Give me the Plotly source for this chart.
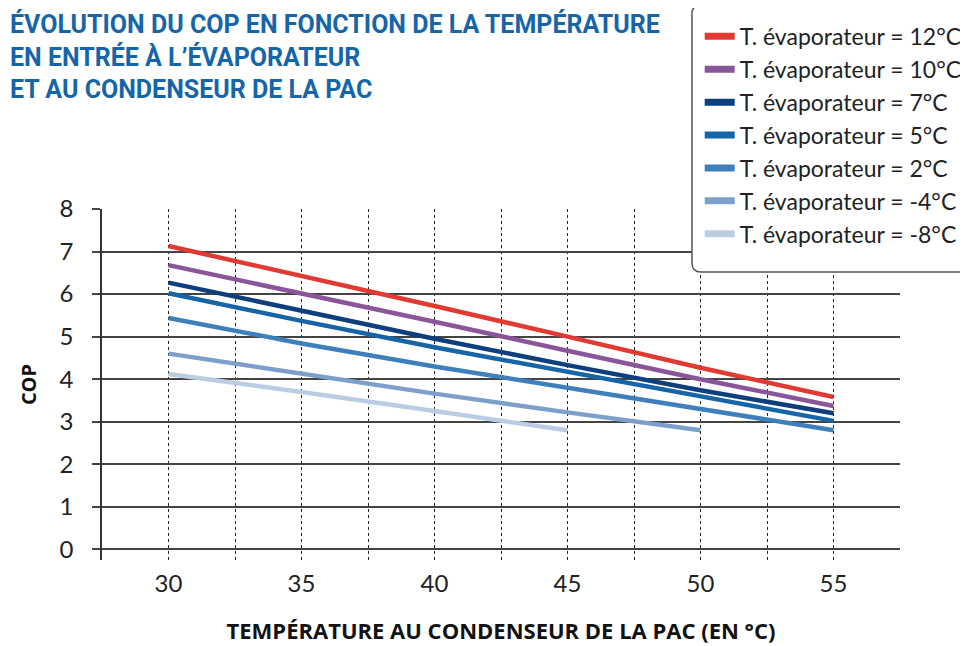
import plotly.graph_objects as go

# condenser temperature (°C)
temp_cond = [30, 35, 40, 45, 50, 55]

# COP curves, one per evaporator temperature
cop_12 = [7.13, 6.43, 5.72, 5.00, 4.27, 3.58]
cop_10 = [6.68, 6.02, 5.35, 4.67, 4.00, 3.37]
cop_7 = [6.27, 5.60, 4.95, 4.33, 3.74, 3.20]
cop_5 = [6.02, 5.37, 4.75, 4.18, 3.60, 3.02]
cop_2 = [5.44, 4.84, 4.30, 3.80, 3.28, 2.80]
cop_m4 = [4.60, 4.12, 3.66, 3.22, 2.80]
cop_m8 = [4.12, 3.70, 3.25, 2.80]

labels = ["T. évaporateur = 12°C", "T. évaporateur = 10°C", "T. évaporateur = 7°C",
          "T. évaporateur = 5°C", "T. évaporateur = 2°C", "T. évaporateur = -4°C",
          "T. évaporateur = -8°C"]
series = [cop_12, cop_10, cop_7, cop_5, cop_2, cop_m4, cop_m8]
colors = ["#e03a32", "#8a559b", "#0d3f7f", "#1565a8", "#3f7fbb", "#7c9fcb", "#bccde3"]

fig = go.Figure()
for name, vals, col in zip(labels, series, colors):
    fig.add_trace(go.Scatter(
        x=temp_cond[:len(vals)], y=vals, mode="lines", name=name,
        line=dict(color=col, width=4.5), legendgroup=name, showlegend=False,
    ))
    # thicker swatch for the legend only
    fig.add_trace(go.Scatter(
        x=[None], y=[None], mode="lines", name=name,
        line=dict(color=col, width=7), legendgroup=name, showlegend=True,
    ))

title = ("<b>ÉVOLUTION DU COP EN FONCTION DE LA TEMPÉRATURE<br>"
         "EN ENTRÉE À L’ÉVAPORATEUR<br>"
         "ET AU CONDENSEUR DE LA PAC</b>")

# page has an 8px body margin, so the layout is shifted by -8px
fig.add_annotation(
    text=title, xref="paper", yref="paper", x=-0.1165, y=1.0, yshift=201,
    xanchor="left", yanchor="top", align="left", showarrow=False, borderpad=0,
    font=dict(family="Roboto", size=25, color="#1565a8"),
)

# rounded legend frame (pixel sized, anchored at its bottom-left corner)
w, h, r = 300, 267, 9
fig.add_shape(
    type="path", layer="above",
    xref="paper", yref="paper", xsizemode="pixel", ysizemode="pixel",
    xanchor=0.7393, yanchor=0.8205,
    path=f"M {r},0 L {w},0 L {w},{h} L {r},{h} Q 0,{h} 0,{h - r} L 0,{r} Q 0,0 {r},0 Z",
    fillcolor="white", line=dict(color="#555", width=1.5),
)

fig.update_layout(
    width=968, height=646,
    margin=dict(l=94, r=76, t=201, b=94, autoexpand=False),
    paper_bgcolor="white",
    plot_bgcolor="white",
    font=dict(family="Lato, Open Sans", size=24, color="#222"),
    showlegend=True,
    legend=dict(
        x=0.749, y=1.553, xanchor="left", yanchor="top",
        xref="paper", yref="paper",
        bgcolor="rgba(0,0,0,0)", borderwidth=0,
        font=dict(size=23, color="#222"), tracegroupgap=0,
    ),
    xaxis=dict(
        range=[27.5, 57.5], tickvals=[30, 35, 40, 45, 50, 55],
        showgrid=True, gridcolor="#222", griddash="3px,3px", gridwidth=1,
        minor=dict(tickvals=[32.5, 37.5, 42.5, 47.5, 52.5, 57.5], showgrid=True,
                   gridcolor="#222", griddash="3px,3px", gridwidth=1),
        showline=False, zeroline=False, ticks="", ticklabelstandoff=7,
        title=dict(text="<b>TEMPÉRATURE AU CONDENSEUR DE LA PAC (EN °C)</b>",
                   font=dict(family="Open Sans", size=22, color="#111"), standoff=27),
    ),
    yaxis=dict(
        range=[-0.25, 8.0], tickvals=list(range(0, 9)),
        showgrid=True, gridcolor="#444", gridwidth=1.5,
        showline=True, linecolor="#333", linewidth=1.5,
        ticks="outside", ticklen=8, tickcolor="#444", tickwidth=1.5,
        zeroline=False, ticklabelstandoff=14,
        title=dict(text="<b>COP</b>", font=dict(family="Open Sans", size=20, color="#111"),
                   standoff=18),
    ),
)

fig.write_html("out.html")
